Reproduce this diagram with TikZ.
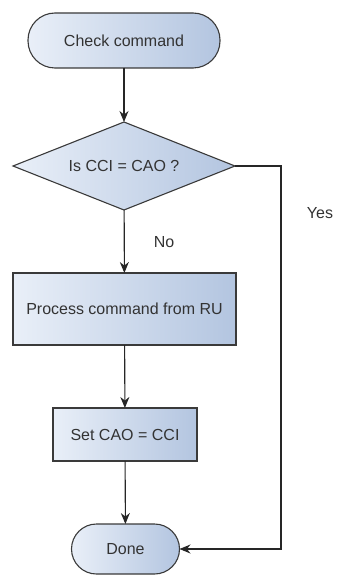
\documentclass[tikz,border=0pt]{standalone}
\usepackage{fontspec}
\setmainfont{Liberation Sans}
\usetikzlibrary{shapes.geometric,arrows.meta}
\definecolor{fillL}{HTML}{E9EFF8}
\definecolor{fillR}{HTML}{B3C5E0}
\definecolor{edge}{HTML}{3A3A3A}
\tikzset{
  x=1pt,y=1pt,
  shapebase/.style={draw=edge,line width=1.1pt,left color=fillL,right color=fillR,inner sep=0pt,outer sep=0pt,font=\fontsize{16}{18}\selectfont,text=black!80},
  terminal/.style={shapebase,rectangle},
  procbox/.style={shapebase,rectangle},
  decision/.style={shapebase,diamond},
  flow/.style={draw=black!85,line width=1.1pt,-{Stealth[length=11pt,width=9pt]}},
  lbl/.style={font=\fontsize{16}{18}\selectfont,text=black!80,inner sep=0pt}
}
\begin{document}
\begin{tikzpicture}
\useasboundingbox (0,0) rectangle (337,-575);
\node[terminal,minimum width=192pt,minimum height=55pt,rounded corners=27pt] (check) at (124,-40.5) {Check command};
\node[decision,minimum width=222pt,minimum height=88pt] (dec) at (124,-166) {\makebox[0pt]{Is CCI = CAO ?}};
\node[procbox,minimum width=223pt,minimum height=72pt] (proc) at (124.5,-309) {Process command from RU};
\node[procbox,minimum width=144pt,minimum height=53pt] (set) at (125,-434.5) {Set CAO = CCI};
\node[terminal,minimum width=108pt,minimum height=50pt,rounded corners=25pt] (done) at (125.5,-549) {Done};
\coordinate (c1) at (281,-166);
\coordinate (c2) at (281,-549);
\node[lbl] (no) at (164,-242) {No};
\node[lbl] (yes) at (320,-213) {Yes};
\draw[flow] (check) -- (dec);
\draw[flow] (dec) -- (proc);
\draw[flow] (proc) -- (set);
\draw[flow] (set) -- (done);
\draw[flow] (dec.east) -- (c1) -- (c2) -- (done.east);
\end{tikzpicture}
\end{document}
